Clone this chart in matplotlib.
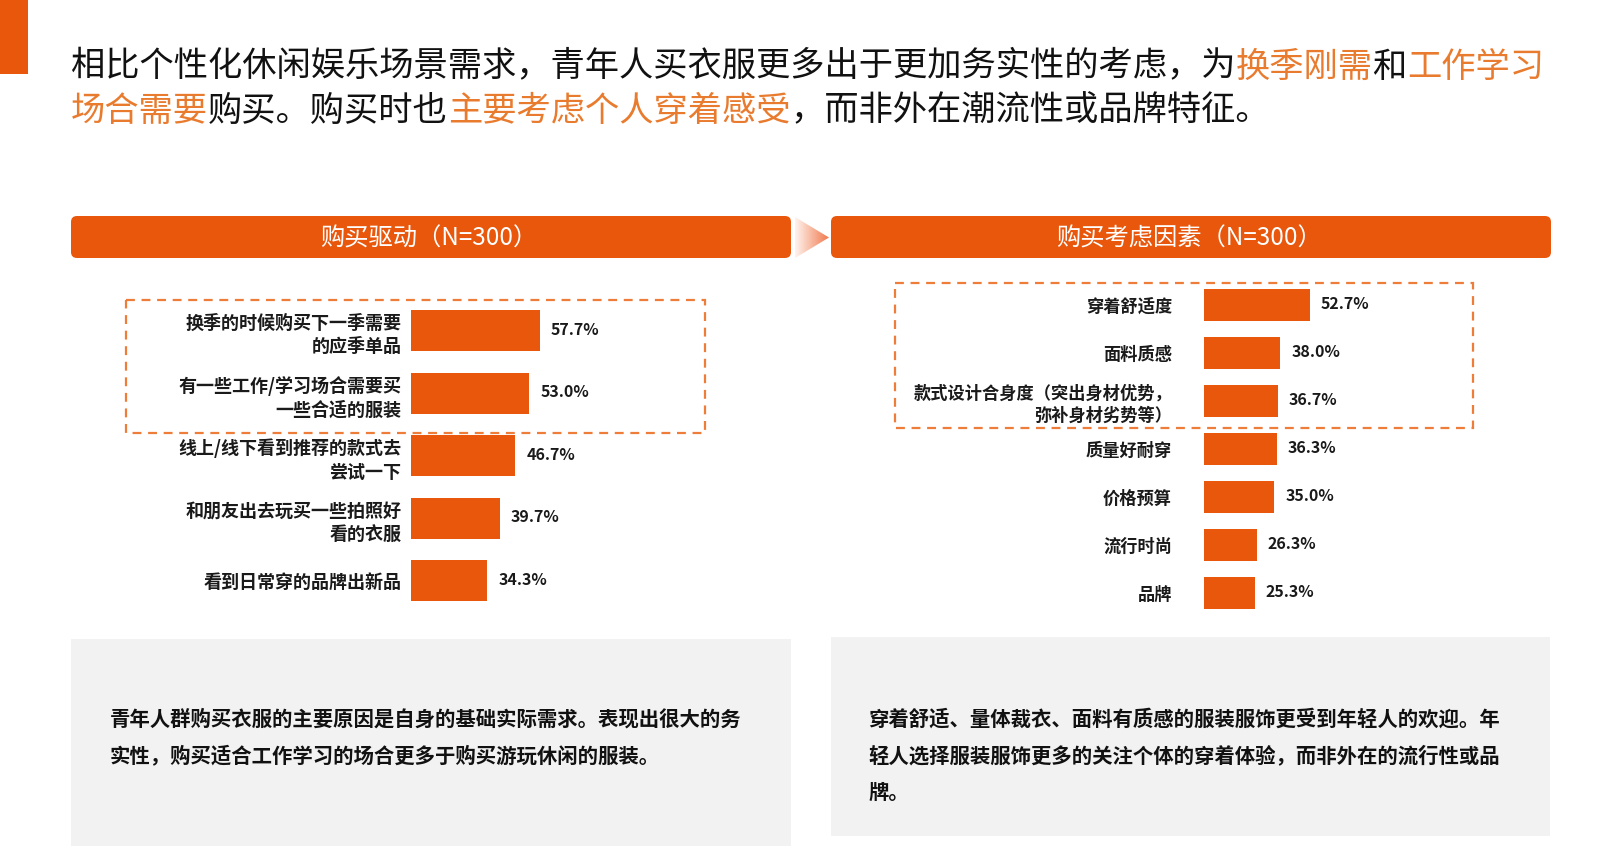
import numpy as np
import matplotlib
matplotlib.use('Agg')
from matplotlib import pyplot as plt
from matplotlib.patches import Rectangle, FancyBboxPatch, Polygon
from matplotlib.colors import LinearSegmentedColormap

plt.rcParams['font.family'] = ['Noto Sans CJK SC', 'DejaVu Sans']

# chart data
driveLabels = ['换季的时候购买下一季需要\n的应季单品',
               '有一些工作/学习场合需要买\n一些合适的服装',
               '线上/线下看到推荐的款式去\n尝试一下',
               '和朋友出去玩买一些拍照好\n看的衣服',
               '看到日常穿的品牌出新品']
driveValues = [57.7, 53.0, 46.7, 39.7, 34.3]

factorLabels = ['穿着舒适度', '面料质感',
                '款式设计合身度（突出身材优势，\n弥补身材劣势等）',
                '质量好耐穿', '价格预算', '流行时尚', '品牌']
factorValues = [52.7, 38.0, 36.7, 36.3, 35.0, 26.3, 25.3]

leftHeader = '购买驱动（N=300）'
rightHeader = '购买考虑因素（N=300）'

titleLine1 = [('相比个性化休闲娱乐场景需求，青年人买衣服更多出于更加务实性的考虑，为', 'k'),
              ('换季刚需', 'hl'), ('和', 'k'), ('工作学习', 'hl')]
titleLine2 = [('场合需要', 'hl'), ('购买。购买时也', 'k'),
              ('主要考虑个人穿着感受', 'hl'), ('，而非外在潮流性或品牌特征。', 'k')]

leftNote = ['青年人群购买衣服的主要原因是自身的基础实际需求。表现出很大的务',
            '实性，购买适合工作学习的场合更多于购买游玩休闲的服装。']
rightNote = ['穿着舒适、量体裁衣、面料有质感的服装服饰更受到年轻人的欢迎。年',
             '轻人选择服装服饰更多的关注个体的穿着体验，而非外在的流行性或品',
             '牌。']

ORANGE = '#E8570C'
HILITE = '#E97B2E'
DASH = '#EE7D3A'
GREY = '#F2F2F2'

W, H = 1598, 846
fig = plt.figure(figsize=(W / 100, H / 100), dpi=100)
bg = fig.add_axes([0, 0, 1, 1])
bg.set_xlim(0, W)
bg.set_ylim(H, 0)
bg.axis('off')


def pixAxes(x0, y0, w, h):
    return fig.add_axes([x0 / W, 1 - (y0 + h) / H, w / W, h / H])


# corner block
bg.add_patch(Rectangle((0, 0), 28, 74, color=ORANGE, lw=0))


# title, drawn piece by piece so the colours can change
def drawLine(x, y, segments, size):
    col = {'k': '#111111', 'hl': HILITE}
    t = bg.text(x, y, segments[0][0], color=col[segments[0][1]], fontsize=size,
                va='center', ha='left')
    for s, c in segments[1:]:
        t = bg.annotate(s, xy=(1, 0.5), xycoords=t, va='center', ha='left',
                        color=col[c], fontsize=size)


drawLine(71, 67, titleLine1, 24.7)
drawLine(71, 111, titleLine2, 24.7)

# header bars
for x0, txt in [(71, leftHeader), (831, rightHeader)]:
    bg.add_patch(FancyBboxPatch((x0, 216), 720, 42,
                                boxstyle='round,pad=0,rounding_size=6',
                                fc=ORANGE, ec='none'))
    bg.text(x0 + 358, 239, txt, color='white', fontsize=17.5, ha='center', va='center')

# arrow between the headers, with a fade
tri = Polygon([(795, 217), (795, 258), (829, 237.5)], closed=True, fc='none', ec='none')
bg.add_patch(tri)
grad = np.linspace(0, 1, 64).reshape(1, -1)
cmap = LinearSegmentedColormap.from_list('fade', ['#FFF3EE', '#F07A4E'])
im = bg.imshow(grad, extent=[795, 829, 258, 217], cmap=cmap, aspect='auto')
im.set_clip_path(tri)
bg.set_xlim(0, W)
bg.set_ylim(H, 0)

# dashed highlight boxes
bg.add_patch(Rectangle((126, 300), 579, 133, fill=False, ec=DASH, lw=1.6, ls=(0, (4, 3))))
bg.add_patch(Rectangle((895, 283), 578, 145, fill=False, ec=DASH, lw=1.6, ls=(0, (4, 3))))

# note boxes
bg.add_patch(Rectangle((71, 639), 720, 210, fc=GREY, ec='none'))
bg.add_patch(Rectangle((831, 637), 719, 199, fc=GREY, ec='none'))
for i, line in enumerate(leftNote):
    bg.text(110, 719 + i * 36.7, line, fontsize=14.7, fontweight='bold',
            color='#111111', va='center', ha='left')
for i, line in enumerate(rightNote):
    bg.text(868, 719 + i * 36.7, line, fontsize=14.7, fontweight='bold',
            color='#111111', va='center', ha='left')


def barChart(ax, labels, values, barHeight, pad, labelSize):
    y = np.arange(len(values))
    ax.barh(y, values, height=barHeight, color=ORANGE)
    ax.set_xlim(0, 100)
    ax.set_ylim(len(values) - 0.5, -0.5)
    ax.set_yticks(y)
    ax.set_yticklabels(labels, fontsize=labelSize, fontweight='bold', color='#1a1a1a',
                       linespacing=1.3)
    ax.tick_params(axis='y', length=0, pad=pad)
    ax.set_xticks([])
    for s in ax.spines.values():
        s.set_visible(False)
    ax.patch.set_alpha(0)
    for yi, v in zip(y, values):
        ax.annotate('{0:.1f}%'.format(v), xy=(v, yi), xytext=(11, 1),
                    textcoords='offset pixels', va='center', ha='left',
                    fontsize=11.5, fontweight='bold', color='#1a1a1a')


axL = pixAxes(411, 299.5, 223, 312.5)
barChart(axL, driveLabels, driveValues, 0.656, 7, 13)

axR = pixAxes(1204, 281, 201, 336)
barChart(axR, factorLabels, factorValues, 0.667, 23, 12.4)

fig.savefig('out.png', dpi=100)
